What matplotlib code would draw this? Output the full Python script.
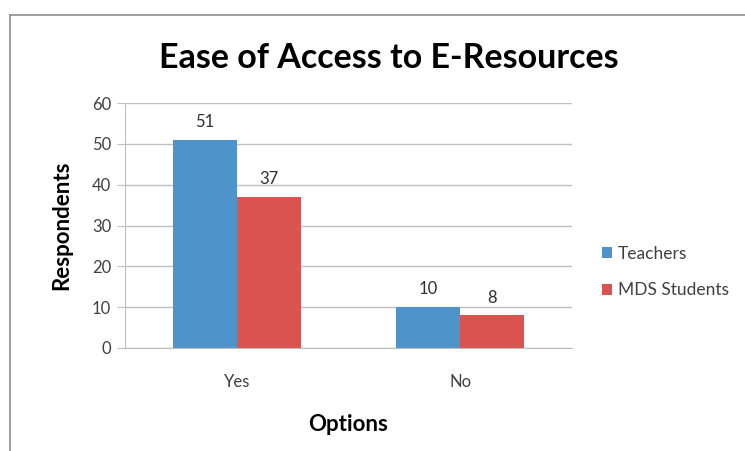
import matplotlib.pyplot as plt
import numpy as np
from matplotlib.lines import Line2D

# data
options = ['Yes', 'No']
teachers = [51, 10]
mds_students = [37, 8]
series_names = ['Teachers', 'MDS Students']

blue = '#4F93CB'
red = '#D9534F'
txt = '#404040'
grid = '#BFBFBF'

plt.rcParams['font.family'] = ['Lato', 'DejaVu Sans']

fig = plt.figure(figsize=(7.45, 4.51), dpi=100)
ax = fig.add_axes([125 / 745, 103 / 451, 447 / 745, 245 / 451])

x = np.arange(len(options))
w = 0.2857
b1 = ax.bar(x - w / 2, teachers, w, color=blue, label=series_names[0])
b2 = ax.bar(x + w / 2, mds_students, w, color=red, label=series_names[1])

for bars in (b1, b2):
    for r in bars:
        ax.annotate(str(int(r.get_height())), (r.get_x() + r.get_width() / 2, r.get_height()),
                    xytext=(0, 7), textcoords='offset points', ha='center', va='bottom',
                    fontsize=12, color='#303030')

ax.set_xlim(-0.5, 1.5)
ax.set_ylim(0, 60)
ax.set_yticks(range(0, 61, 10))
ax.set_xticks(x)
ax.set_xticklabels(options)
ax.yaxis.grid(True, color=grid, linewidth=1)
ax.set_axisbelow(True)
for s in ['top', 'right']:
    ax.spines[s].set_visible(False)
ax.spines['left'].set_color(grid)
ax.spines['bottom'].set_color(grid)
ax.tick_params(axis='y', colors=grid, labelcolor=txt, labelsize=12, length=6, pad=4)
ax.tick_params(axis='x', length=0, labelcolor=txt, labelsize=12, pad=19)

ax.set_ylabel('Respondents', fontsize=16, fontweight='bold', labelpad=14)
ax.set_xlabel('Options', fontsize=16, fontweight='bold', labelpad=17)

fig.text(0.522, 0.871, 'Ease of Access to E-Resources', ha='center', va='center',
         fontsize=24.5, fontweight='bold')

leg = fig.legend(handles=[b1, b2], loc='center left', bbox_to_anchor=(602 / 745, 0.397),
                 frameon=False, fontsize=12.5, handlelength=0.6, handleheight=0.6,
                 handletextpad=0.3, labelspacing=1.2, borderpad=0, borderaxespad=0)
for t in leg.get_texts():
    t.set_color(txt)

# chart border
fig.add_artist(Line2D([10 / 745, 1], [1 - 15 / 451, 1 - 15 / 451], color='#8C8C8C', linewidth=1.2))
fig.add_artist(Line2D([10 / 745, 10 / 745], [0, 1 - 15 / 451], color='#8C8C8C', linewidth=1.2))

fig.savefig('out.png', dpi=100)
